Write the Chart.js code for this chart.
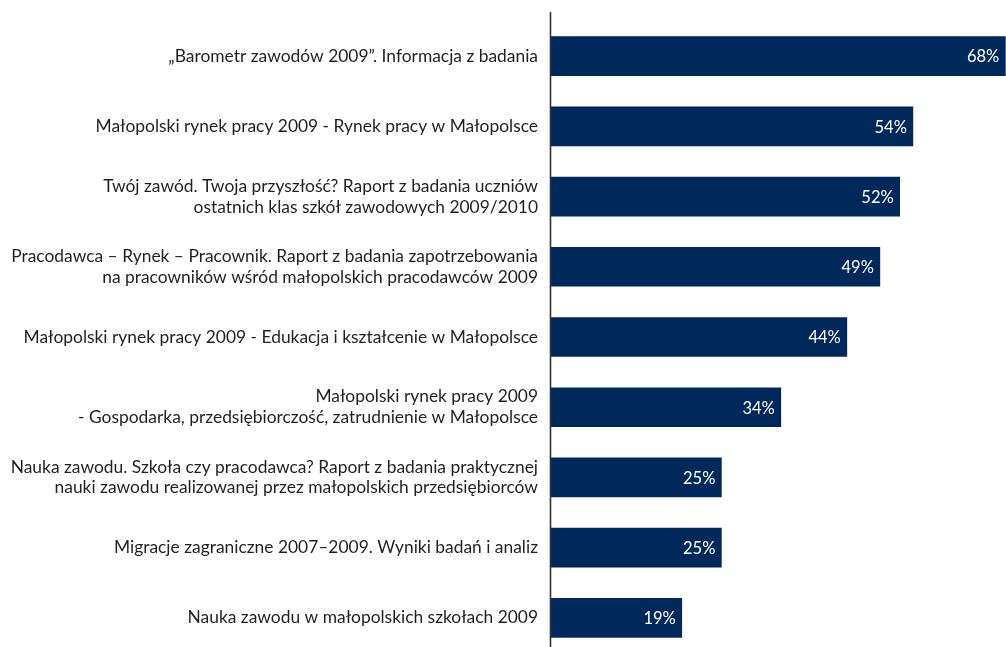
<!DOCTYPE html>
<html><head><meta charset="utf-8">
<script src="https://cdn.jsdelivr.net/npm/chart.js@4"></script>
<style>html,body{margin:0;padding:0;background:#fff;overflow:hidden;}</style>
</head><body>
<canvas id="c" width="1006" height="653"></canvas>
<script>
const categories = [
  "„Barometr zawodów 2009”. Informacja z badania",
  "Małopolski rynek pracy 2009 - Rynek pracy w Małopolsce",
  ["Twój zawód. Twoja przyszłość? Raport z badania uczniów", "ostatnich klas szkół zawodowych 2009/2010"],
  ["Pracodawca – Rynek – Pracownik. Raport z badania zapotrzebowania", "na pracowników wśród małopolskich pracodawców 2009"],
  "Małopolski rynek pracy 2009 - Edukacja i kształcenie w Małopolsce",
  ["Małopolski rynek pracy 2009", "- Gospodarka, przedsiębiorczość, zatrudnienie w Małopolsce"],
  ["Nauka zawodu. Szkoła czy pracodawca? Raport z badania praktycznej", "nauki zawodu realizowanej przez małopolskich przedsiębiorców"],
  "Migracje zagraniczne 2007–2009. Wyniki badań i analiz",
  "Nauka zawodu w małopolskich szkołach 2009"
];
const values = [68, 54, 52, 49, 44, 34, 25, 25, 19];
const valueLabels = ["68%", "54%", "52%", "49%", "44%", "34%", "25%", "25%", "19%"];

const FONT = 'Lato, "Open Sans", sans-serif';

const axisLinePlugin = {
  id: 'axisLine',
  afterDraw(chart) {
    const ctx = chart.ctx;
    const x = chart.chartArea.left - 0.5;
    ctx.save();
    ctx.strokeStyle = '#333333';
    ctx.lineWidth = 1.6;
    ctx.beginPath();
    ctx.moveTo(x, 12);
    ctx.lineTo(x, chart.height);
    ctx.stroke();
    ctx.restore();
  }
};

const valueLabelPlugin = {
  id: 'valueLabels',
  afterDatasetsDraw(chart) {
    const ctx = chart.ctx;
    const meta = chart.getDatasetMeta(0);
    ctx.save();
    ctx.font = '16.5px ' + FONT;
    ctx.fillStyle = '#ffffff';
    ctx.textAlign = 'right';
    ctx.textBaseline = 'middle';
    meta.data.forEach((bar, i) => {
      const right = Math.min(bar.x, chart.chartArea.right);
      ctx.fillText(valueLabels[i], right - 6, bar.y + 1);
    });
    ctx.restore();
  }
};

new Chart(document.getElementById('c'), {
  type: 'bar',
  data: {
    labels: categories,
    datasets: [{
      data: values,
      base: -0.8,
      backgroundColor: '#00295b',
      borderWidth: 0,
      barThickness: 39
    }]
  },
  options: {
    indexAxis: 'y',
    responsive: false,
    animation: false,
    devicePixelRatio: 1,
    layout: { padding: { top: 21, bottom: 0, left: 0, right: 0 } },
    plugins: { legend: { display: false }, tooltip: { enabled: false } },
    scales: {
      x: {
        display: false,
        min: -0.8,
        max: 68.1
      },
      y: {
        afterFit(scale) {
          scale.width = 551;
          scale.paddingTop = 0;
          scale.paddingBottom = 0;
        },
        grid: { display: false, drawTicks: false },
        border: { display: false },
        ticks: {
          padding: 13,
          color: '#231f20',
          font: { family: FONT, size: 17.4, lineHeight: 1.2 }
        }
      }
    }
  },
  plugins: [axisLinePlugin, valueLabelPlugin]
});
</script>
</body></html>
